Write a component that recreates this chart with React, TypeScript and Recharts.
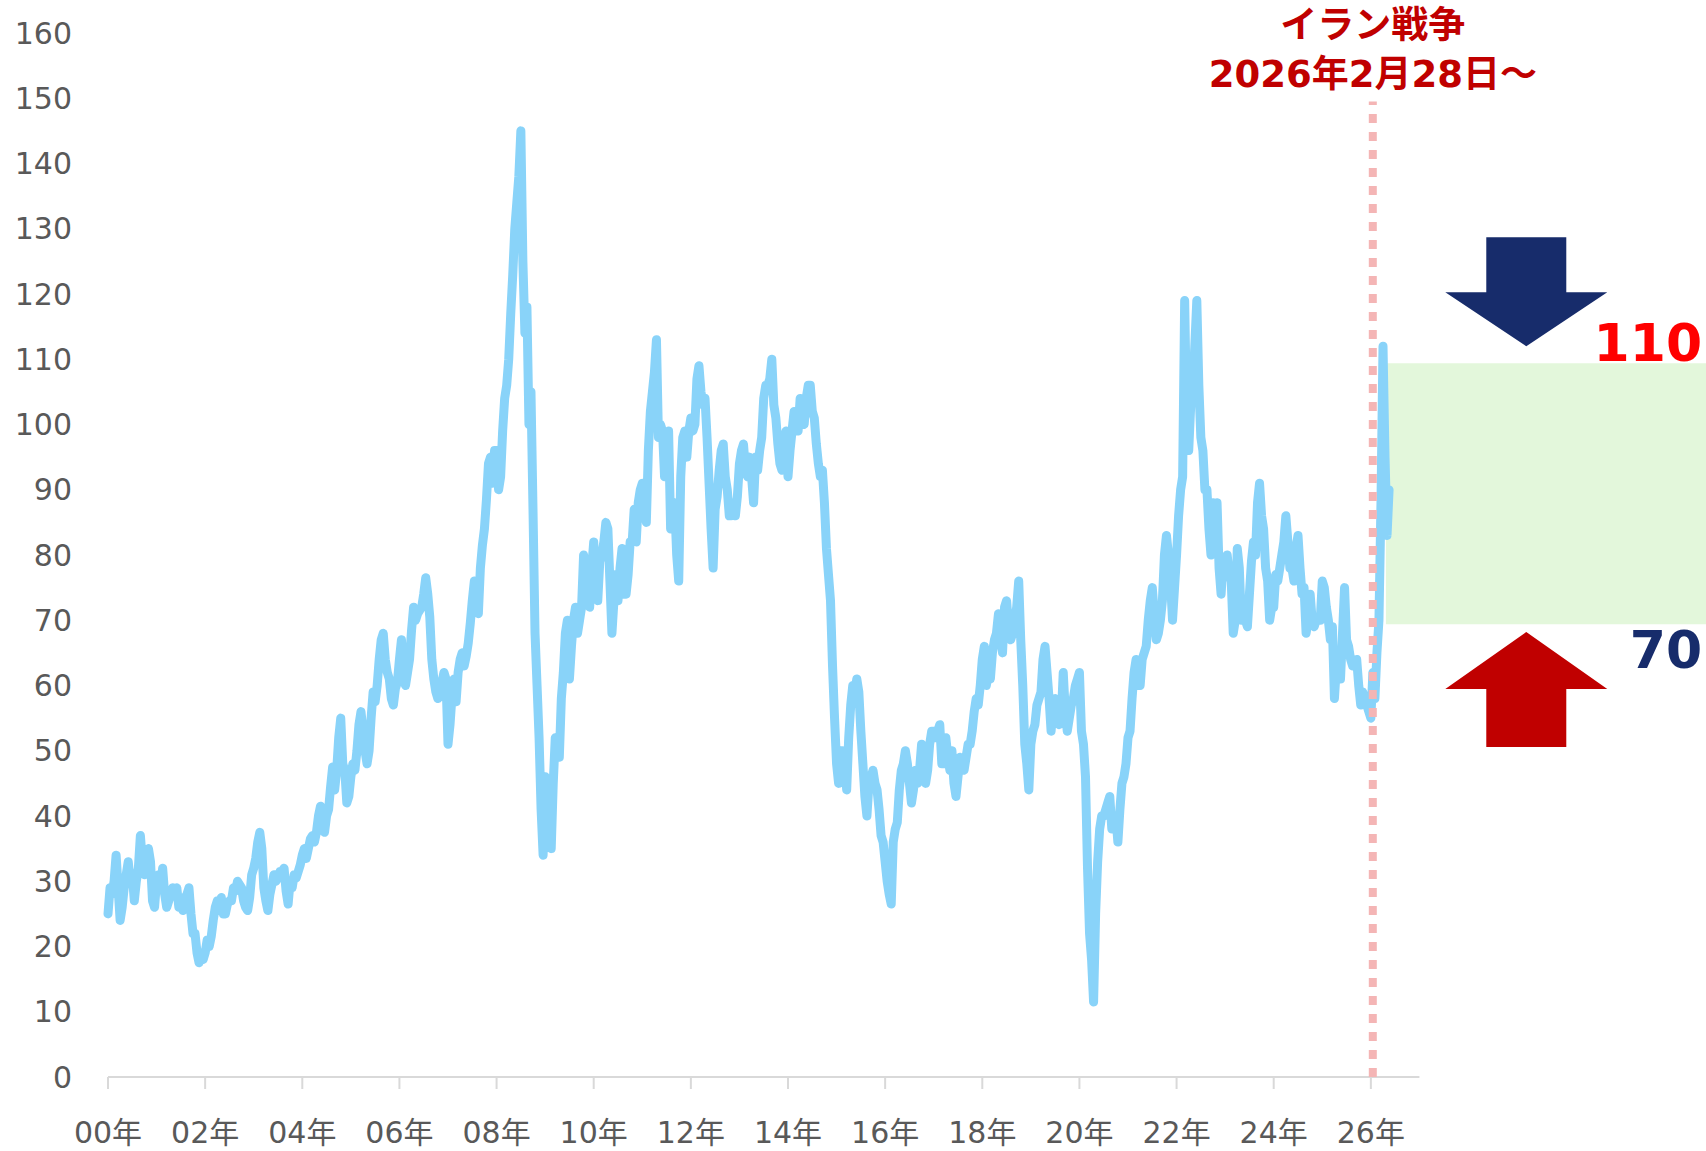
import React from 'react';
import {
  LineChart,
  Line,
  XAxis,
  YAxis,
  ReferenceLine,
  ReferenceArea,
  ReferenceDot,
} from 'recharts';

// WTI crude, USD/bbl, two readings per month (first / second half)
const WTI_2000 = [25, 29, 28, 30, 34, 29, 24, 26, 29, 31, 33, 30, 31, 27, 30, 32, 37, 33, 31, 34, 35, 33, 27, 26];
const WTI_2001 = [30, 31, 29, 32, 28, 26, 27, 28, 29, 28, 29, 26, 27, 25.5, 27.5, 28, 29, 25, 22, 22, 19, 17.5, 19, 18];
const WTI_2002 = [19, 21, 20, 21.5, 24, 26, 27, 25.5, 27.5, 25, 25, 26.5, 27, 27, 29, 28.5, 30, 29.5, 29, 27, 26, 25.5, 27.5, 31];
const WTI_2003 = [32, 33.5, 36, 37.5, 35, 29, 27, 25.5, 28, 29.5, 31, 30, 30.5, 31.5, 31.5, 32, 28.5, 26.5, 30, 29, 31, 30.5, 31.5, 32.5];
const WTI_2004 = [34, 35, 33.5, 35, 36.5, 37, 36, 37.5, 40, 41.5, 38, 37.5, 40, 41, 44.5, 47.5, 44, 47, 52, 55, 48, 47, 42, 43];
const WTI_2005 = [46, 48, 47, 50, 54, 56, 53, 50, 48, 50, 55, 59, 57.5, 60, 64, 67, 68, 64, 62, 61, 58, 57, 59.5, 60.5];
const WTI_2006 = [64, 67, 61, 60, 62, 64, 68.5, 72, 70, 71, 71.5, 72, 74, 76.5, 74, 70.5, 64, 61, 59, 58, 58.5, 60.5, 62, 61];
const WTI_2007 = [51, 54, 58.5, 61, 57.5, 62, 64, 65, 63, 64.5, 66.5, 69.5, 73, 76, 71.5, 71, 78, 81.5, 84, 88.5, 94, 95, 91, 96];
const WTI_2008 = [96, 90, 92, 99, 104, 106, 110, 117, 123, 130, 134, 138, 145, 125, 114, 118, 100, 105, 87, 68, 60, 52, 41, 34];
const WTI_2009 = [46, 38, 40, 35, 45, 52, 50, 49, 58, 62, 68, 70, 61, 66, 70, 72, 68, 70, 72, 80, 78, 77, 72, 78];
const WTI_2010 = [82, 75, 73, 79, 80, 82, 85, 84, 76, 68, 73, 77, 73, 78, 81, 74, 74, 77, 82, 82, 87, 82, 88, 90];
const WTI_2011 = [91, 87, 85, 96, 102, 105, 108, 113, 98, 100, 99, 92, 96, 99, 84, 87, 88, 80, 76, 92, 98, 99, 95, 99];
const WTI_2012 = [101, 99, 100, 107, 109, 105, 103, 104, 98, 91, 84, 78, 87, 89, 93, 96, 97, 92, 90, 86, 86, 88, 86, 89];
const WTI_2013 = [94, 96, 97, 93, 92, 95, 92, 88, 95, 93, 96, 98, 104, 106, 106, 107, 110, 103, 101, 97, 94, 93, 97, 99];
const WTI_2014 = [92, 96, 99, 102, 101, 99, 104, 101, 100, 104, 106, 106, 102, 101, 97, 94, 92, 93, 88, 81, 77, 73, 63, 55];
const WTI_2015 = [48, 45, 50, 50, 48, 44, 52, 57, 60, 59, 61, 59, 53, 48, 43, 40, 45, 46, 47, 45, 44, 41, 37, 36];
const WTI_2016 = [33, 30, 28, 26.5, 36, 38, 39, 44, 47, 48, 50, 48, 45, 42, 44, 47, 45, 47, 51, 49, 45, 47, 51, 53];
const WTI_2017 = [53, 52, 53, 54, 48, 48, 52, 49, 47, 50, 45, 43, 46, 49, 48, 47, 49, 51, 51, 53, 56, 58, 57, 60];
const WTI_2018 = [64, 66, 60, 62, 61, 65, 67, 68, 71, 68, 65, 72, 73, 69, 67, 68, 70, 72, 76, 67, 60, 51, 48, 44];
const WTI_2019 = [51, 53, 54, 57, 58, 59, 64, 66, 62, 58, 53, 57, 58, 56, 54, 55, 62, 56, 53, 55, 57, 58, 60, 61];
const WTI_2020 = [62, 53, 51, 46, 32, 22, 18, 11.5, 25, 33, 38, 40, 40, 41, 42, 43, 38, 40, 40, 36, 41, 45, 46, 48];
const WTI_2021 = [52, 53, 58, 62, 64, 60, 60, 64, 65, 66, 70, 73, 75, 71, 67, 68, 70, 73, 80, 83, 80, 76, 70, 75];
const WTI_2022 = [80, 86, 90, 92, 119, 100, 96, 103, 105, 112, 119, 106, 98, 96, 90, 90, 84, 80, 88, 85, 88, 78, 74, 79];
const WTI_2023 = [78, 80, 77, 76, 68, 70, 81, 78, 70, 72, 70, 69, 74, 79, 82, 80, 88, 91, 86, 84, 78, 76, 70, 72];
const WTI_2024 = [72, 77, 76, 78, 80, 82, 86, 82, 78, 78, 76, 81, 83, 78, 74, 75, 68, 70, 74, 70, 69, 70, 70, 70];
const WTI_2025 = [76, 75, 72, 70, 67, 69, 58, 63, 61, 61, 68, 75, 67, 66, 64, 63, 63, 64, 60, 57, 59, 58, 57, 56];
const WTI_2026 = [55, 62, 58, 65, 70, 88, 112, 95, 83, 90];

const YEAR_BLOCKS = [
  WTI_2000, WTI_2001, WTI_2002, WTI_2003, WTI_2004, WTI_2005, WTI_2006,
  WTI_2007, WTI_2008, WTI_2009, WTI_2010, WTI_2011, WTI_2012, WTI_2013,
  WTI_2014, WTI_2015, WTI_2016, WTI_2017, WTI_2018, WTI_2019, WTI_2020,
  WTI_2021, WTI_2022, WTI_2023, WTI_2024, WTI_2025, WTI_2026,
];

const X_TICKS = [2000, 2002, 2004, 2006, 2008, 2010, 2012, 2014, 2016, 2018, 2020, 2022, 2024, 2026];
const Y_TICKS = [0, 10, 20, 30, 40, 50, 60, 70, 80, 90, 100, 110, 120, 130, 140, 150, 160];

const WAR_START = 2026.04;
const RANGE_LOW = 69.4;
const RANGE_HIGH = 109.4;
const TITLE_1 = 'イラン戦争';
const TITLE_2 = '2026年2月28日～';

const data = YEAR_BLOCKS.flatMap((vals, k) =>
  vals.map((v, j) => ({ t: 2000 + k + j / 24, v }))
);

const FONT = "'DejaVu Sans', 'Noto Sans CJK JP', sans-serif";
const NAVY = '#172C6B';
const DARK_RED = '#C00000';

const YTick = ({ x, y, payload }: any) => (
  <text x={x} y={y} textAnchor="end" dominantBaseline="central" fill="#595959" fontSize={30} fontFamily={FONT}>
    {payload.value}
  </text>
);

const XTick = ({ x, y, payload }: any) => (
  <text x={x} y={y + 41} textAnchor="middle" dominantBaseline="central" fill="#595959" fontSize={30} fontFamily={FONT}>
    {String(payload.value % 100).padStart(2, '0')}年
  </text>
);

const DownArrow = ({ cx, cy }: any) => (
  <polygon
    fill={NAVY}
    points={`${cx},${cy} ${cx - 81},${cy - 54} ${cx - 40},${cy - 54} ${cx - 40},${cy - 109} ${cx + 40},${cy - 109} ${cx + 40},${cy - 54} ${cx + 81},${cy - 54}`}
  />
);

const UpArrow = ({ cx, cy }: any) => (
  <polygon
    fill={DARK_RED}
    points={`${cx},${cy} ${cx - 81},${cy + 57} ${cx - 40},${cy + 57} ${cx - 40},${cy + 115} ${cx + 40},${cy + 115} ${cx + 40},${cy + 57} ${cx + 81},${cy + 57}`}
  />
);

const bigLabel = (text: string, color: string) => ({ cx, cy }: any) => (
  <text x={cx} y={cy} textAnchor="end" dominantBaseline="central" fill={color} fontSize={52} fontWeight="bold" fontFamily={FONT}>
    {text}
  </text>
);

const Title = ({ cx, cy }: any) => (
  <g fill={DARK_RED} fontSize={37} fontWeight="bold" fontFamily={FONT} textAnchor="middle">
    <text x={cx} y={cy - 76} dominantBaseline="central">{TITLE_1}</text>
    <text x={cx} y={cy - 27} dominantBaseline="central">{TITLE_2}</text>
  </g>
);

export default function App() {
  return (
    <div style={{ position: 'absolute', left: 0, top: 0, background: '#fff' }}>
      <LineChart width={1706} height={1151} data={data} margin={{ top: 33, right: 0, bottom: 0, left: 0 }}>
        <XAxis
          dataKey="t"
          type="number"
          domain={[2000, 2032.9]}
          ticks={X_TICKS}
          axisLine={false}
          tickLine={{ stroke: '#D9D9D9', strokeWidth: 2 }}
          tickSize={12}
          tick={<XTick />}
          height={74}
          interval={0}
        />
        <YAxis
          type="number"
          domain={[0, 160]}
          ticks={Y_TICKS}
          axisLine={false}
          tickLine={false}
          tickSize={0}
          tickMargin={36}
          width={108}
          tick={<YTick />}
          interval={0}
        />
        <ReferenceArea x1={2026.31} x2={2032.9} y1={RANGE_LOW} y2={RANGE_HIGH} fill="#E3F7DB" fillOpacity={1} stroke="none" />
        <ReferenceLine
          segment={[{ x: 2000, y: 0 }, { x: 2027, y: 0 }]}
          stroke="#D9D9D9"
          strokeWidth={2}
        />
        <Line
          type="linear"
          dataKey="v"
          stroke="#89D3F9"
          strokeWidth={9}
          strokeLinejoin="round"
          strokeLinecap="round"
          dot={false}
          isAnimationActive={false}
        />
        <ReferenceLine
          segment={[{ x: WAR_START, y: 0 }, { x: WAR_START, y: 149.5 }]}
          stroke="#F4B5B5"
          strokeWidth={8}
          strokeDasharray="9 9"
        />
        <ReferenceDot x={WAR_START} y={149.5} r={0} shape={<Title />} ifOverflow="visible" />
        <ReferenceDot x={2029.2} y={112} r={0} shape={<DownArrow />} ifOverflow="visible" />
        <ReferenceDot x={2029.2} y={68.2} r={0} shape={<UpArrow />} ifOverflow="visible" />
        <ReferenceDot x={2032.82} y={112.5} r={0} shape={bigLabel('110', '#FF0000')} ifOverflow="visible" />
        <ReferenceDot x={2032.82} y={65.4} r={0} shape={bigLabel('70', NAVY)} ifOverflow="visible" />
      </LineChart>
    </div>
  );
}
